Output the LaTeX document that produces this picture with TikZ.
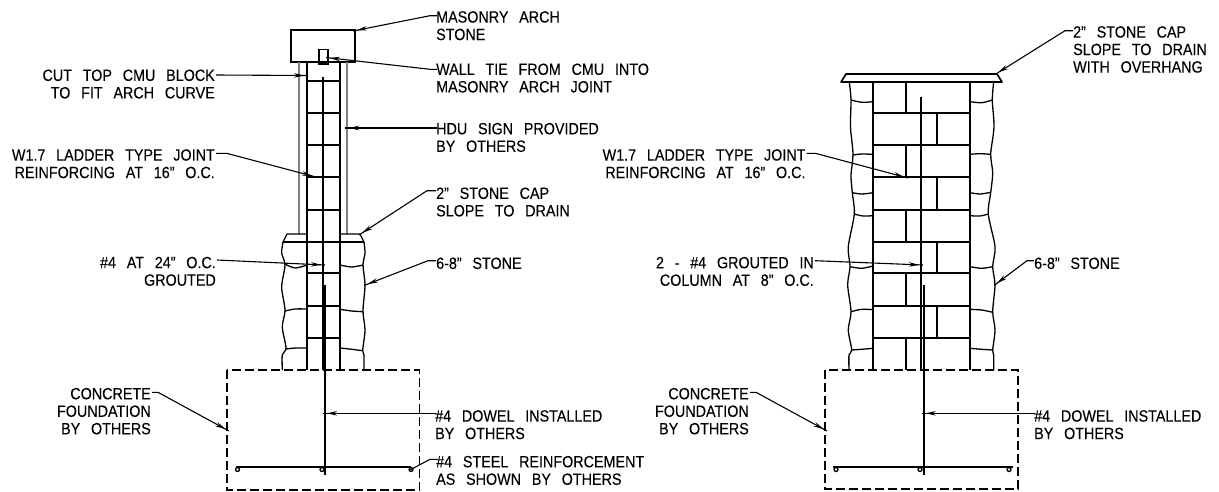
\documentclass[tikz,border=0pt]{standalone}
\usepackage{fontspec}
\setmainfont[FakeStretch=0.88,WordSpace=2.7,FakeBold=0.15]{Liberation Sans}
\usetikzlibrary{arrows.meta,calc,decorations.markings}
\tikzset{
  wall/.style={line width=1.5pt,black},
  thinwall/.style={line width=1.1pt,black},
  stone/.style={line width=1.3pt,black,line join=round},
  rebar/.style={line width=1.7pt,black},
  dowel/.style={line width=1.9pt,black},
  hdu/.style={line width=1.4pt,black!50},
  footing/.style={line width=1.4pt,black,dash pattern=on 9pt off 4pt},
  lab/.style={inner sep=0pt,font=\fontsize{16.3}{17.5}\selectfont},
  labl/.style={lab,align=left,anchor=north west},
  labr/.style={lab,align=right,anchor=north east},
  plainlead/.style={line width=1.1pt,black},
  lead/.style={plainlead,postaction={decorate},decoration={markings,mark=at position -4pt with {\arrow{Stealth[length=10pt,width=4.5pt]}}}},
  tie/.style={line width=1.3pt,black,fill=none},
}
\begin{document}
\begin{tikzpicture}[x=1pt,y=-1pt]
\useasboundingbox (0,0) rectangle (1219,491);
% ---- left section ----
\draw[wall] (291,30) rectangle (355,62);
\draw[tie] (319,49.5) rectangle (328,64);
\draw[hdu] (299,62) -- (299,234);
\draw[hdu] (347,62) -- (347,234);
\draw[wall] (307,62) -- (307,370);
\draw[wall] (340,62) -- (340,370);
\foreach \y in {81,145,210,273,338} \draw[thinwall] (307,\y) -- (340,\y);
\foreach \y in {113,177,306} \draw[wall] (307,\y) -- (340,\y);
\draw[wall] (283,242) -- (364,242);
\draw[rebar] (323,77) -- (323,370);
\draw[dowel] (325,285) -- (325,475);
\draw[stone] (307,234) -- (287,234) -- (283,242);
\draw[stone] (340,234) -- (360,234) -- (364,242);
\draw[stone] plot[smooth] coordinates {(283,242) (281.7,253) (285,265) (281.7,287) (285,310) (282.3,327) (286,348) (282.3,355) (282.3,370)};
\draw[stone] plot[smooth] coordinates {(364,242) (365,253) (363,265) (365,285) (363,311) (365,330) (362.7,350) (364,355) (364,370)};
\draw[stone] plot[smooth] coordinates {(285,264) (295,268) (307,265)};
\draw[stone] plot[smooth] coordinates {(285,311) (295,309) (307,309)};
\draw[stone] plot[smooth] coordinates {(286,349) (296,348) (307,348)};
\draw[stone] plot[smooth] coordinates {(340,265) (351.7,267) (363,265)};
\draw[stone] plot[smooth] coordinates {(340,309.3) (351.7,311) (363,311.7)};
\draw[stone] plot[smooth] coordinates {(340,348) (351.7,349.3) (362.7,350.7)};
\draw[footing] (227,370) rectangle (419.5,490);
\draw[rebar] (236,467) -- (411,467);
\foreach \x in {237.5,322,411} \draw[line width=1.3pt] (\x,469.5) circle (2);
% ---- right section ----
\draw[wall,line width=1.7pt,line join=round] (841,82) -- (846,74) -- (997,74) -- (1002,82) -- cycle;
\draw[wall] (873,82) -- (873,370);
\draw[wall] (970,82) -- (970,370);
\foreach \y in {113,145,177,210,242,273,306,338} \draw[wall] (873,\y) -- (970,\y);
\draw[wall] (906,82) -- (906,113);
\draw[wall] (937,113) -- (937,145);
\draw[wall] (906,145) -- (906,177);
\draw[wall] (937,177) -- (937,210);
\draw[wall] (906,210) -- (906,242);
\draw[wall] (937,242) -- (937,273);
\draw[wall] (906,273) -- (906,306);
\draw[wall] (937,306) -- (937,338);
\draw[wall] (906,338) -- (906,370);
\draw[rebar] (921,97) -- (921,370);
\draw[dowel] (924,285) -- (924,475);
\draw[stone] plot[smooth] coordinates {(849.3,82) (851,100) (850.5,127) (853,154.3) (851,175) (852.3,192.7) (854.3,214) (848.3,246.7) (850,266.7) (847.7,285) (851,311.7) (848.3,330) (851.7,350) (849,355) (849,370)};
\draw[stone] plot[smooth] coordinates {(993.7,82) (992.3,100) (994,127) (990.7,154) (992.7,173) (990.7,192.7) (988.3,214) (995,246.7) (992.7,266.7) (995,285) (992.7,311.7) (995,330) (992.7,350) (993.7,355) (993.7,370)};
\draw[stone] plot[smooth] coordinates {(851,100) (861.7,102.3) (873,101.7)};
\draw[stone] plot[smooth] coordinates {(853,155) (861.7,154) (873,154.3)};
\draw[stone] plot[smooth] coordinates {(852.3,192.7) (861.7,194) (873,192.7)};
\draw[stone] plot[smooth] coordinates {(854.3,214) (863,216) (873,215.7)};
\draw[stone] plot[smooth] coordinates {(850,266.7) (861.7,268.3) (873,266)};
\draw[stone] plot[smooth] coordinates {(851,311.7) (861.7,309.3) (873,309.7)};
\draw[stone] plot[smooth] coordinates {(851.7,350) (861.7,349.3) (873,348.3)};
\draw[stone] plot[smooth] coordinates {(970,101.7) (981.7,102.7) (992.3,100)};
\draw[stone] plot[smooth] coordinates {(970,154.3) (980,153.7) (990.7,154.3)};
\draw[stone] plot[smooth] coordinates {(970,192.7) (980,194) (990.7,192.3)};
\draw[stone] plot[smooth] coordinates {(970,215.7) (980,216) (988.3,214)};
\draw[stone] plot[smooth] coordinates {(970,266.7) (981.7,268.3) (992.7,266.7)};
\draw[stone] plot[smooth] coordinates {(970,309.3) (981.7,310) (992.7,312.3)};
\draw[stone] plot[smooth] coordinates {(970,348.3) (981.7,349.3) (992.7,350)};
\draw[footing] (825,370) rectangle (1018,489);
\draw[rebar] (833,467) -- (1013,467);
\foreach \x in {836,920,1009} \draw[line width=1.3pt] (\x,469.5) circle (2);
% ---- labels ----
\node[labr] (cut) at (215,69.3) {CUT TOP CMU BLOCK\\TO FIT ARCH CURVE};
\node[labr] (ladA) at (215,149) {W1.7 LADDER TYPE JOINT\\REINFORCING AT 16" O.C.};
\node[labr] (grout) at (216,256.6) {\#4 AT 24" O.C.\\GROUTED};
\node[labr] (concA) at (151,387.7) {CONCRETE\\FOUNDATION\\BY OTHERS};
\node[labl] (arch) at (436,11) {MASONRY ARCH\\STONE};
\node[labl] (wtie) at (436,63.3) {WALL TIE FROM CMU INTO\\MASONRY ARCH JOINT};
\node[labl] (sign) at (436,122.7) {HDU SIGN PROVIDED\\BY OTHERS};
\node[labl] (capA) at (436,187.3) {2" STONE CAP\\SLOPE TO DRAIN};
\node[labl] (stA) at (436,257.3) {6-8" STONE};
\node[labl] (dowA) at (435,410) {\#4 DOWEL INSTALLED\\BY OTHERS};
\node[labl] (steel) at (436,455.7) {\#4 STEEL REINFORCEMENT\\AS SHOWN BY OTHERS};
\node[labl] (capB) at (1073,26) {2" STONE CAP\\SLOPE TO DRAIN\\WITH OVERHANG};
\node[labr] (ladB) at (805.7,149) {W1.7 LADDER TYPE JOINT\\REINFORCING AT 16" O.C.};
\node[labr] (col) at (814,256.7) {2 - \#4 GROUTED IN\\COLUMN AT 8" O.C.};
\node[labr] (concB) at (749,387.7) {CONCRETE\\FOUNDATION\\BY OTHERS};
\node[labl] (stB) at (1034,257.3) {6-8" STONE};
\node[labl] (dowB) at (1034,410) {\#4 DOWEL INSTALLED\\BY OTHERS};
% ---- connector ends ----
\coordinate (tcut) at (308,75.5);
\coordinate (tladA) at (316,177);
\coordinate (tgrout) at (325,265);
\coordinate (tconcA) at (229,431);
\coordinate (tarch) at (353,31);
\coordinate (twtie) at (326,57.5);
\coordinate (tsign) at (345,128);
\coordinate (tcapA) at (359,235);
\coordinate (tstA) at (364,285.5);
\coordinate (tdowA) at (323,413.3);
\coordinate (tsteel) at (410,470);
\coordinate (tcapB) at (995,74.5);
\coordinate (tladB) at (908,178);
\coordinate (tcol) at (923,265);
\coordinate (tconcB) at (827,431);
\coordinate (tstB) at (994,285.5);
\coordinate (tdowB) at (921.7,413.3);
% ---- connectors ----
\draw[lead] ($(cut.north east)+(1,5.7)$) -- (tcut);
\draw[lead] ($(ladA.north east)+(1,4.4)$) -- ++(11,0) -- (tladA);
\draw[lead] ($(grout.north east)+(1,3.4)$) -- (tgrout);
\draw[lead] ($(concA.north east)+(1,4.6)$) -- ++(6,0) -- (tconcA);
\draw[lead] ($(arch.north west)+(1,4.7)$) -- ++(-7,0) -- (tarch);
\draw[lead] ($(wtie.north west)+(1,6)$) -- ++(-7,0) -- (twtie);
\draw[lead] ($(sign.north west)+(1,5.3)$) -- (tsign);
\draw[lead] ($(capA.north west)+(0,3.4)$) -- ++(-9,0) -- (tcapA);
\draw[lead] ($(stA.north west)+(0,3.4)$) -- ++(-8,0) -- (tstA);
\draw[lead] ($(dowA.north west)+(1,3.3)$) -- (tdowA);
\draw[plainlead] ($(steel.north west)+(1,3.6)$) -- ++(-7,0) -- (tsteel);
\draw[lead] ($(capB.north west)+(0,4.7)$) -- ++(-8,0) -- (tcapB);
\draw[lead] ($(ladB.north east)+(1,4.4)$) -- ++(9,0) -- (tladB);
\draw[lead] ($(col.north east)+(1,4)$) -- (tcol);
\draw[lead] ($(concB.north east)+(1,4.6)$) -- ++(6,0) -- (tconcB);
\draw[lead] ($(stB.north west)+(0,3.4)$) -- ++(-7,0) -- (tstB);
\draw[lead] ($(dowB.north west)+(1,3.3)$) -- (tdowB);
\end{tikzpicture}
\end{document}
